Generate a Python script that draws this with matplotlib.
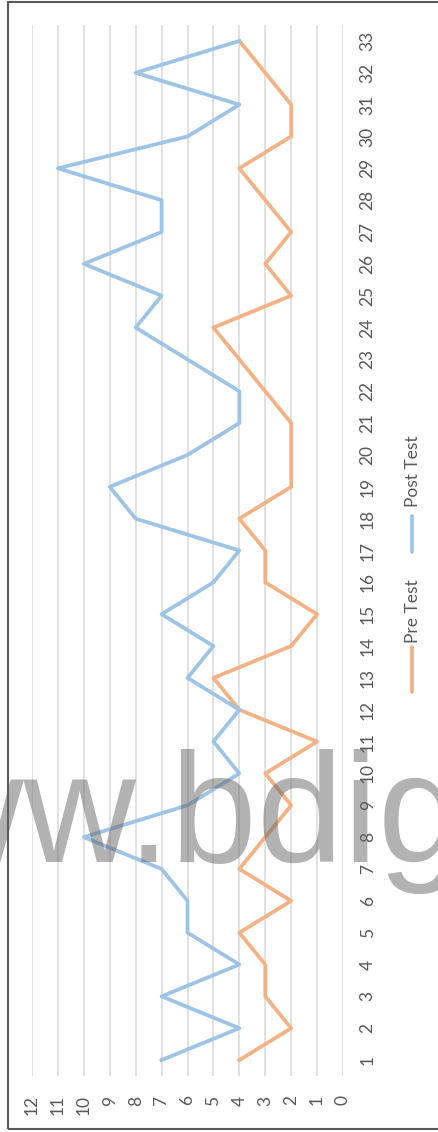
import matplotlib
matplotlib.use('Agg')
import matplotlib.pyplot as plt
from matplotlib.lines import Line2D
from matplotlib.patches import Rectangle

cats = list(range(1, 34))
pre_test = [4, 2, 3, 3, 4, 2, 4, 3, 2, 3, 1, 4, 5, 2, 1, 3, 3, 4, 2, 2, 2,
            3, 4, 5, 2, 3, 2, 3, 4, 2, 2, 3, 4]
post_test = [7, 4, 7, 4, 6, 6, 7, 10, 6, 4, 5, 4, 6, 5, 7, 5, 4, 8, 9, 6, 4,
             4, 6, 8, 7, 10, 7, 7, 11, 6, 4, 8, 4]
value_ticks = list(range(0, 13))

W, H = 438, 1132
orange = '#F4B183'
blue = '#9DC3E6'
txt = '#595959'
plt.rcParams['font.family'] = ['Lato', 'DejaVu Sans']

fig = plt.figure(figsize=(W / 100, H / 100), dpi=100)
ax = fig.add_axes([32 / W, 56 / H, (343 - 32) / W, (1107 - 56) / H])

ax.plot(pre_test, cats, color=orange, lw=2.7, solid_joinstyle='round')
ax.plot(post_test, cats, color=blue, lw=2.7, solid_joinstyle='round')

ax.set_xlim(12, 0)
ax.set_ylim(0.5, 33.5)
ax.set_xticks(value_ticks)
ax.set_xticklabels([str(v) for v in value_ticks], rotation=90, color=txt, fontsize=12.5)
ax.set_yticks(cats)
ax.yaxis.tick_right()
ax.set_yticklabels([str(c) for c in cats], rotation=90, va='center', color=txt, fontsize=12.5)
ax.tick_params(axis='x', length=0, pad=14)
ax.tick_params(axis='y', length=0, pad=12)
ax.grid(axis='x', color='#D9D9D9', lw=1.1)
ax.set_axisbelow(True)
for s in ax.spines.values():
    s.set_visible(False)

# legend, drawn by hand because it is rotated
fig.add_artist(Line2D([412 / W, 412 / W], [(H - 692) / H, (H - 647) / H],
                      color=orange, lw=2.7, solid_capstyle='round'))
fig.text(413 / W, (H - 611) / H, 'Pre Test', rotation=90, ha='center', va='center',
         color=txt, fontsize=12.5)
fig.add_artist(Line2D([412 / W, 412 / W], [(H - 552) / H, (H - 516) / H],
                      color=blue, lw=2.7, solid_capstyle='round'))
fig.text(413 / W, (H - 471) / H, 'Post Test', rotation=90, ha='center', va='center',
         color=txt, fontsize=12.5)

# chart border
fig.add_artist(Rectangle((8 / W, 3 / H), 1.0, (1129 - 2) / H, transform=fig.transFigure,
                         fill=False, edgecolor='#595959', lw=1.5))

# watermark
fig.text(-201 / W, (H - 862) / H, 'www.bdigital.unal.edu.co', fontsize=112,
         family='Liberation Sans', color='#666666', alpha=0.5, ha='left', va='baseline',
         zorder=10)

fig.savefig('out.png', dpi=100)
